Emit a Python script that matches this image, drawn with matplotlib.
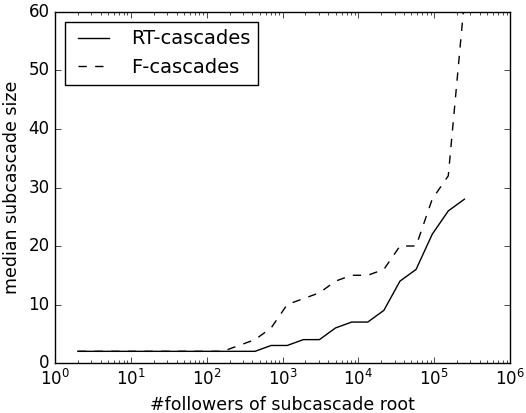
import matplotlib
matplotlib.use("Agg")
import matplotlib.pyplot as plt

# x positions (followers of root), log-spaced bins
followers = [2.0, 3.26, 5.32, 8.68, 14.1, 23.1, 37.6, 61.4, 100, 163, 266, 434,
             708, 1154, 1883, 3069, 5004, 8163, 13310, 21710, 35400, 57730,
             94140, 153500, 250400]

rtMedian = [2, 2, 2, 2, 2, 2, 2, 2, 2, 2, 2, 2,
            3, 3, 4, 4, 6, 7, 7, 9, 14, 16, 22, 26, 28]

fMedian = [2, 2, 2, 2, 2, 2, 2, 2, 2, 2, 3, 4,
           6, 10, 11, 12, 14, 15, 15, 16, 20, 20, 28, 32, 62]

plt.style.use("classic")

fig = plt.figure(figsize=(5.26, 4.13), dpi=100, facecolor="white")
ax = fig.add_axes([0.1046, 0.121, 0.865, 0.850])

ax.plot(followers, rtMedian, "k-", label="RT-cascades")
ax.plot(followers, fMedian, "k--", label="F-cascades")

ax.set_xscale("log")
ax.set_xlim(1, 1e6)
ax.set_ylim(0, 60)
ax.set_xlabel("#followers of subcascade root", fontsize=12.5)
ax.set_ylabel("median subcascade size", fontsize=12.5)
ax.tick_params(labelsize=12)

ax.legend(loc="upper left", fontsize=14, handlelength=2.2)

fig.savefig("out.png", dpi=100, facecolor="white")
